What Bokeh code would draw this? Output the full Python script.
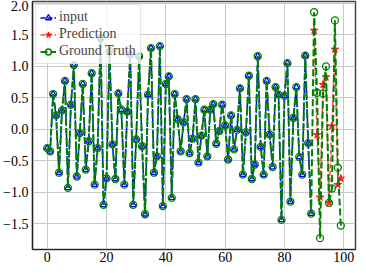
from bokeh.plotting import figure
from bokeh.models import Range1d, FixedTicker
from bokeh.embed import file_html
from bokeh.resources import INLINE

# ---- data ----
input_x = list(range(0, 90))
input_y = [-0.30, -0.35, 0.56, 0.22, -0.69, 0.30, 0.77, -0.93, 0.39, 1.02,
           -0.75, -0.06, 0.72, -0.64, -0.19, 0.89, -0.88, -0.30, 1.45, -1.20,
           -0.78, 1.24, -0.24, -0.79, 0.57, 0.31, -0.88, 0.28, 1.19, -1.20,
           -0.16, 1.16, -0.27, -1.35, 0.55, 1.29, -0.69, -0.43, 1.32, -1.22,
           0.72, 0.84, -1.09, 0.56, 0.16, -0.35, 0.11, 0.48, -0.38, -0.15,
           0.48, -0.53, -0.10, 0.31, -0.43, 0.31, 0.40, -0.23, -0.03, 0.39,
           0.06, -0.48, 0.22, -0.32, -0.01, 0.65, -0.72, -0.05, 0.85, -0.79,
           -0.56, 1.16, -0.28, -0.72, 0.77, -0.08, -0.60, 0.67, 0.55, -1.44,
           0.53, 1.05, -1.15, 0.18, 0.67, -0.44, -0.72, 1.17, -0.22, -1.34]

pred_x = list(range(90, 100))
pred_y = [1.57, -0.09, -1.08, 0.71, 0.83, -1.17, 0.05, 1.27, -0.88, -0.78]

truth_tail = [1.86, 0.58, -1.73, 0.57, 1.00, -1.17, -0.94, 1.73, -0.61, -1.53]
truth_x = list(range(0, 100))
truth_y = input_y + truth_tail

x_ticks = [0, 20, 40, 60, 80, 100]
x_tick_labels = ["0", "20", "40", "60", "80", "100"]
y_ticks = [-1.5, -1.0, -0.5, 0.0, 0.5, 1.0, 1.5, 2.0]
y_tick_labels = ["\u22121.5", "\u22121.0", "\u22120.5", "0.0", "0.5", "1.0", "1.5", "2.0"]

FONT = "Liberation Serif"

p = figure(width=358, height=265, output_backend="svg", toolbar_location=None,
           x_range=Range1d(-4.95, 103.95), y_range=Range1d(-1.91, 2.03),
           min_border_left=22, min_border_right=3, min_border_top=1,
           min_border_bottom=16)

p.background_fill_color = "white"
p.border_fill_color = "white"
p.outline_line_color = "#444444"
p.outline_line_width = 1.5

for ax in (p.xaxis[0], p.yaxis[0]):
    ax.major_label_text_font = FONT
    ax.major_label_text_font_size = "14px"
    ax.major_label_text_color = "black"
    ax.major_tick_out = 0
    ax.major_tick_in = 0
    ax.minor_tick_out = 0
    ax.minor_tick_in = 0
    ax.axis_line_color = "#222222"
    ax.axis_line_width = 1.2

p.xaxis.ticker = FixedTicker(ticks=x_ticks)
p.yaxis.ticker = FixedTicker(ticks=y_ticks)
p.xaxis.major_label_overrides = {t: s for t, s in zip(x_ticks, x_tick_labels)}
p.yaxis.major_label_overrides = {t: s for t, s in zip(y_ticks, y_tick_labels)}
p.xaxis.major_label_standoff = 2
p.yaxis.major_label_standoff = 4

p.grid.grid_line_color = "#c8c8c8"
p.grid.grid_line_width = 1

# input
p.line(input_x, input_y, line_color="blue", line_width=1.5, line_dash="5 2",
       legend_label="input")
p.scatter(input_x, input_y, marker="triangle", size=6, line_color="blue",
          fill_color=None, line_width=1.3, legend_label="input")

# prediction
p.line(pred_x, pred_y, line_color="red", line_width=1.5, line_alpha=0.7,
       line_dash="5 2", legend_label="Prediction")
p.scatter(pred_x, pred_y, marker="star", size=8, line_color="red",
          fill_color="red", fill_alpha=0.8, line_alpha=0.8, legend_label="Prediction")

# ground truth
p.line(truth_x, truth_y, line_color="green", line_width=2, line_dash="7 3",
       legend_label="Ground Truth")
p.scatter(truth_x, truth_y, marker="circle", size=7, line_color="green",
          fill_color=None, line_width=1.3, legend_label="Ground Truth")

lg = p.legend[0]
lg.location = "top_left"
lg.label_text_font = FONT
lg.label_text_font_size = "14px"
lg.label_height = 15
lg.glyph_height = 15
lg.glyph_width = 16
lg.label_standoff = 3
lg.spacing = 1
lg.padding = 4
lg.margin = 3
lg.border_line_color = "#cccccc"
lg.border_line_width = 1
lg.background_fill_alpha = 0.8

open("out.html", "w").write(file_html(p, INLINE))
